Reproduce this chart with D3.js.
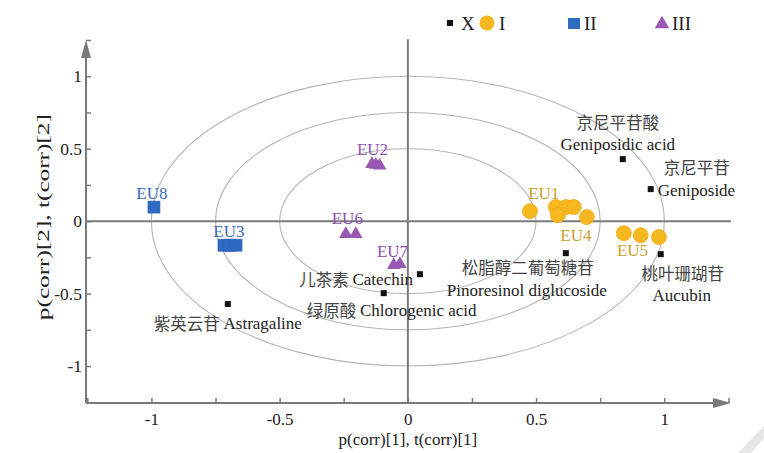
<!DOCTYPE html>
<html>
<head>
<meta charset="utf-8">
<script src="https://cdn.jsdelivr.net/npm/d3@7"></script>
<style>
  html, body { margin: 0; padding: 0; background: #fff; }
  svg { display: block; }
  text { font-family: "Liberation Serif", "Noto Sans CJK SC", serif; }
  .cjk { font-family: "Noto Sans CJK SC", sans-serif; fill: #444; }
</style>
</head>
<body>
<svg id="chart" width="764" height="453"></svg>
<script>
// Loadings / scores on the first two predictive components
const xTicks = [-1, -0.5, 0, 0.5, 1];
const yTicks = [-1, -0.5, 0, 0.5, 1];
const ellipseRadii = [1, 0.75, 0.5];

// Group I (EU1, EU4, EU5) scores
const groupI = [
  [0.476, 0.069], [0.577, 0.097], [0.616, 0.097], [0.647, 0.097],
  [0.585, 0.041], [0.698, 0.028],
  [0.842, -0.083], [0.908, -0.097], [0.979, -0.110]
];
// Group II (EU8, EU3) scores
const groupII = [
  [-0.990, 0.097],
  [-0.717, -0.166], [-0.694, -0.166], [-0.670, -0.166]
];
// Group III (EU2, EU6, EU7) scores
const groupIII = [
  [-0.140, 0.400], [-0.125, 0.395], [-0.110, 0.390],
  [-0.242, -0.083], [-0.203, -0.083],
  [-0.055, -0.297], [-0.031, -0.290]
];

// Sample labels
const sampleNames = ["EU1", "EU4", "EU5", "EU8", "EU3", "EU2", "EU6", "EU7"];
const sampleGroup = ["I", "I", "I", "II", "II", "III", "III", "III"];
const sampleX = [0.530, 0.655, 0.876, -0.998, -0.698, -0.138, -0.236, -0.060];
const sampleY = [0.193, -0.097, -0.200, 0.193, -0.069, 0.497, 0.021, -0.207];

// Compound loadings (X)
const compoundCN = ["京尼平苷酸", "京尼平苷", "松脂醇二葡萄糖苷", "桃叶珊瑚苷", "儿茶素", "绿原酸", "紫英云苷"];
const compoundEN = ["Geniposidic acid", "Geniposide", "Pinoresinol diglucoside", "Aucubin", "Catechin", "Chlorogenic acid", "Astragaline"];
const compoundX = [0.838, 0.947, 0.616, 0.986, 0.047, -0.094, -0.702];
const compoundY = [0.428, 0.221, -0.221, -0.228, -0.366, -0.497, -0.572];

// Label placement for each compound (pixel offsets from its marker)
const compoundLayout = [
  { mode: "stack", cn: [-5, -37], en: [-5, -15], anchor: "middle" },
  { mode: "stack", cn: [46, -22], en: [7, 1], anchor: "start" },
  { mode: "stack", cn: [-38, 14], en: [-39, 37], anchor: "middle" },
  { mode: "stack", cn: [22, 19], en: [21, 41], anchor: "middle" },
  { mode: "line", pos: [-7, 5], anchor: "end" },
  { mode: "line", pos: [-77, 17], anchor: "start" },
  { mode: "line", pos: [-74, 19], anchor: "start" }
];

const colors = { I: "#f6b821", II: "#2e69c2", III: "#9a58b5" };
const textColors = { I: "#c9a22c", II: "#3a6cc4", III: "#8f50ae" };
const axisColor = "#7a7a7a";

const svg = d3.select("#chart");

const x = d3.scaleLinear().domain([-1.255, 1.26]).range([86, 731]);
const y = d3.scaleLinear().domain([-1.255, 1.25]).range([403, 40]);

// Concentric reference ellipses
svg.append("g").selectAll("ellipse").data(ellipseRadii).join("ellipse")
  .attr("cx", x(0)).attr("cy", y(0))
  .attr("rx", d => x(d) - x(0)).attr("ry", d => y(0) - y(d))
  .attr("fill", "none").attr("stroke", "#b4b4b4").attr("stroke-width", 1.1);

// Zero lines
svg.append("line")
  .attr("x1", x(-1.255)).attr("x2", x(1.26)).attr("y1", y(0)).attr("y2", y(0))
  .attr("stroke", axisColor).attr("stroke-width", 2);
svg.append("line")
  .attr("x1", x(0)).attr("x2", x(0)).attr("y1", y(-1.255)).attr("y2", y(1.255))
  .attr("stroke", axisColor).attr("stroke-width", 2);

// Axes with inward ticks
const minorTicks = d3.range(-1.25, 1.26, 0.25);
const xAxis = d3.axisBottom(x).tickValues(minorTicks).tickSizeInner(-5).tickSizeOuter(0)
  .tickPadding(10);
const gx = svg.append("g").attr("transform", `translate(0,${y(-1.255)})`).call(xAxis);
gx.select(".domain").remove();
gx.selectAll(".tick line").attr("stroke", axisColor).attr("stroke-width", 1.5);
gx.selectAll(".tick text").attr("fill", "#222").attr("font-size", 17)
  .attr("font-family", "Liberation Serif").text(d => xTicks.includes(d) ? String(d) : "");

const yAxis = d3.axisLeft(y).tickValues(minorTicks).tickSizeInner(-5).tickSizeOuter(0)
  .tickPadding(4);
const gy = svg.append("g").attr("transform", `translate(${x(-1.255)},0)`).call(yAxis);
gy.select(".domain").remove();
gy.selectAll(".tick line").attr("stroke", axisColor).attr("stroke-width", 1.5);
gy.selectAll(".tick text").attr("fill", "#222").attr("font-size", 17.5)
  .attr("font-family", "Liberation Serif").text(d => yTicks.includes(d) ? String(d) : "");

// Axis lines with arrowheads
svg.append("line")
  .attr("x1", x(-1.255)).attr("x2", x(1.2)).attr("y1", y(-1.255)).attr("y2", y(-1.255))
  .attr("stroke", axisColor).attr("stroke-width", 2);
svg.append("line")
  .attr("x1", x(-1.255)).attr("x2", x(-1.255)).attr("y1", y(-1.255)).attr("y2", y(1.18))
  .attr("stroke", axisColor).attr("stroke-width", 2);
const ax = x(1.26), ay = y(-1.255);
svg.append("path").attr("d", `M${ax},${ay} L${ax - 18},${ay - 5} L${ax - 18},${ay + 5} Z`).attr("fill", axisColor);
const bx = x(-1.255), by = y(1.25);
svg.append("path").attr("d", `M${bx},${by} L${bx - 5},${by + 18} L${bx + 5},${by + 18} Z`).attr("fill", axisColor);

// Axis titles
svg.append("text").attr("x", x(0)).attr("y", 445).attr("text-anchor", "middle")
  .attr("font-size", 17).attr("fill", "#222").text("p(corr)[1], t(corr)[1]");
svg.append("text").attr("transform", `translate(49,${y(0) - 4}) rotate(-90)`)
  .attr("text-anchor", "middle").attr("font-size", 17.5).attr("fill", "#222")
  .attr("textLength", 206).attr("lengthAdjust", "spacingAndGlyphs")
  .text("p(corr)[2], t(corr)[2]");

// Group I circles
svg.append("g").selectAll("circle").data(groupI).join("circle")
  .attr("cx", d => x(d[0])).attr("cy", d => y(d[1])).attr("r", 7.5)
  .attr("fill", colors.I).attr("stroke", "#f0ac10").attr("stroke-width", 0.8);

// Group II squares
svg.append("g").selectAll("rect").data(groupII).join("rect")
  .attr("x", d => x(d[0]) - 6).attr("y", d => y(d[1]) - 6)
  .attr("width", 12).attr("height", 12)
  .attr("fill", colors.II).attr("stroke", "#2a5fb0").attr("stroke-width", 0.6);

// Group III triangles
const tri = d3.symbol().type(d3.symbolTriangle).size(80);
svg.append("g").selectAll("path").data(groupIII).join("path")
  .attr("transform", d => `translate(${x(d[0])},${y(d[1]) + 1})`)
  .attr("d", tri).attr("fill", colors.III);

// Sample labels
svg.append("g").selectAll("text").data(sampleNames).join("text")
  .attr("x", (d, i) => x(sampleX[i])).attr("y", (d, i) => y(sampleY[i]))
  .attr("text-anchor", "middle").attr("dominant-baseline", "central")
  .attr("font-size", 17).attr("fill", (d, i) => textColors[sampleGroup[i]])
  .text(d => d);

// Compound markers
svg.append("g").selectAll("rect").data(compoundEN).join("rect")
  .attr("x", (d, i) => x(compoundX[i]) - 3).attr("y", (d, i) => y(compoundY[i]) - 3)
  .attr("width", 6).attr("height", 6).attr("fill", "#111");

// Compound labels
const lab = svg.append("g").attr("font-size", 17).attr("fill", "#222");
compoundEN.forEach((en, i) => {
  const px = x(compoundX[i]), py = y(compoundY[i]);
  const L = compoundLayout[i];
  if (L.mode === "stack") {
    lab.append("text").attr("class", "cjk")
      .attr("x", px + L.cn[0]).attr("y", py + L.cn[1])
      .attr("text-anchor", "middle").attr("dominant-baseline", "central")
      .attr("font-size", 16.5).text(compoundCN[i]);
    lab.append("text")
      .attr("x", px + L.en[0]).attr("y", py + L.en[1])
      .attr("text-anchor", L.anchor)
      .attr("dominant-baseline", "central").text(en);
  } else {
    const t = lab.append("text").attr("x", px + L.pos[0]).attr("y", py + L.pos[1])
      .attr("text-anchor", L.anchor).attr("dominant-baseline", "central");
    t.append("tspan").attr("class", "cjk").attr("font-size", 16.5).text(compoundCN[i] + " ");
    t.append("tspan").text(en);
  }
});

// Legend
const lg = svg.append("g").attr("font-size", 19).attr("fill", "#222");
lg.append("rect").attr("x", 447).attr("y", 20).attr("width", 6).attr("height", 6).attr("fill", "#111");
lg.append("text").attr("x", 461).attr("y", 23).attr("dominant-baseline", "central").text("X");
lg.append("circle").attr("cx", 487).attr("cy", 23).attr("r", 7.5).attr("fill", colors.I);
lg.append("text").attr("x", 499).attr("y", 23).attr("dominant-baseline", "central").text("I");
lg.append("rect").attr("x", 568).attr("y", 18).attr("width", 12).attr("height", 11).attr("fill", colors.II);
lg.append("text").attr("x", 584).attr("y", 23).attr("dominant-baseline", "central").text("II");
lg.append("path").attr("transform", "translate(662,24)").attr("d", d3.symbol().type(d3.symbolTriangle).size(90)).attr("fill", colors.III);
lg.append("text").attr("x", 672).attr("y", 23).attr("dominant-baseline", "central").text("III");

// Corner stamp
svg.append("path").attr("d", "M738,453 L764,426 L764,438 L751,453 Z").attr("fill", "#e6e6e6");
</script>
</body>
</html>
